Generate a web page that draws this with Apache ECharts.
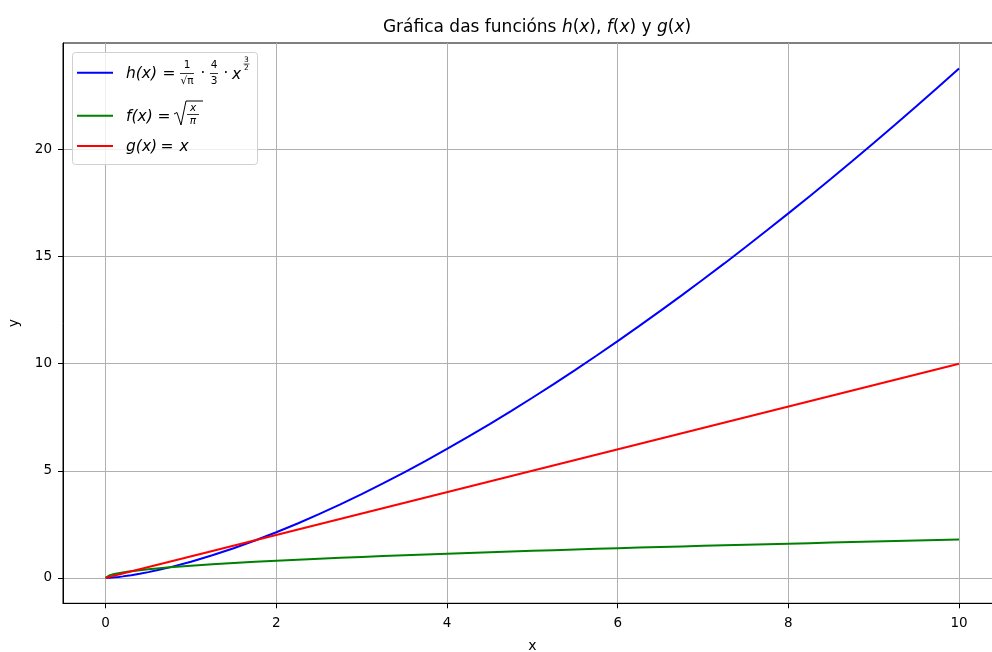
<!DOCTYPE html>
<html>
<head>
<meta charset="utf-8">
<script src="https://cdn.jsdelivr.net/npm/echarts@6/dist/echarts.min.js"></script>
<style>html,body{margin:0;padding:0;background:#fff}#c{width:992px;height:652px}</style>
</head>
<body>
<div id="c"></div>
<script>
// Data
var xValues = [0, 0.05, 0.1, 0.15, 0.2, 0.25, 0.3, 0.4, 0.5, 0.6, 0.75, 1, 1.25, 1.5, 1.75, 2, 2.25, 2.5, 2.75, 3, 3.25, 3.5, 3.75, 4, 4.25, 4.5, 4.75, 5, 5.25, 5.5, 5.75, 6, 6.25, 6.5, 6.75, 7, 7.25, 7.5, 7.75, 8, 8.25, 8.5, 8.75, 9, 9.25, 9.5, 9.75, 10];
var hValues = [0, 0.0084, 0.0238, 0.0437, 0.0673, 0.0940, 0.1236, 0.1903, 0.2660, 0.3496, 0.4886, 0.7523, 1.0513, 1.3820, 1.7415, 2.1277, 2.5389, 2.9735, 3.4306, 3.9088, 4.4075, 4.9257, 5.4627, 6.0180, 6.5911, 7.1809, 7.7876, 8.4105, 9.0490, 9.7031, 10.3722, 11.0558, 11.7540, 12.4662, 13.1923, 13.9319, 14.6849, 15.4510, 16.2301, 17.0216, 17.8256, 18.6420, 19.4704, 20.3108, 21.1630, 22.0262, 22.9021, 23.7886];
var fValues = [0, 0.1262, 0.1784, 0.2185, 0.2523, 0.2821, 0.3090, 0.3568, 0.3989, 0.4370, 0.4886, 0.5642, 0.6308, 0.6910, 0.7464, 0.7979, 0.8463, 0.8921, 0.9356, 0.9772, 1.0171, 1.0555, 1.0926, 1.1284, 1.1631, 1.1968, 1.2296, 1.2616, 1.2927, 1.3231, 1.3529, 1.3820, 1.4105, 1.4384, 1.4658, 1.4927, 1.5191, 1.5451, 1.5707, 1.5958, 1.6205, 1.6449, 1.6689, 1.6926, 1.7159, 1.7390, 1.7617, 1.7841];
var gX = [0, 10];
var gValues = [0, 10];
var xTicks = [0, 2, 4, 6, 8, 10];
var yTicks = [0, 5, 10, 15, 20];

function pairs(xs, ys) { return xs.map(function (x, i) { return [x, ys[i]]; }); }

var FONT = 'DejaVu Sans';
var chart = echarts.init(document.getElementById('c'), null, { renderer: 'canvas' });

function t(str, x, y, size, italic, align) {
  return { type: 'text', x: x, y: y, z: 101, style: { text: str, font: (italic ? 'italic ' : '') + size + 'px "' + FONT + '"', fill: '#000', textAlign: align || 'center', textVerticalAlign: 'middle' } };
}
function ln(x1, y1, x2, y2, color, w) {
  return { type: 'line', z: 101, shape: { x1: x1, y1: y1, x2: x2, y2: y2 }, style: { stroke: color, lineWidth: w } };
}

var legendGraphics = [
  { type: 'rect', z: 100, shape: { x: 72.5, y: 52.5, width: 185, height: 112, r: 3 }, style: { fill: 'rgba(255,255,255,0.8)', stroke: '#d0d0d0', lineWidth: 1 } },
  ln(77, 72.7, 113, 72.7, '#0000ff', 2),
  ln(77, 115.7, 113, 115.7, '#008000', 2),
  ln(77, 146, 113, 146, '#ff0000', 2),
  // h(x) = 1/sqrt(pi) · 4/3 · x^(3/2)
  t('h(x)', 126, 74, 15.5, true, 'left'),
  t('=', 169, 74, 15.5, false),
  t('1', 187, 65.5, 10.5, false),
  ln(180, 73.5, 194, 73.5, '#000', 0.8),
  t('√π', 187, 81.5, 10.5, false),
  t('·', 203, 74, 15, false),
  t('4', 214, 65.5, 10.5, false),
  ln(210, 73.5, 218, 73.5, '#000', 0.8),
  t('3', 214, 81.5, 10.5, false),
  t('·', 226, 74, 15, false),
  t('x', 236.5, 75, 15.5, true),
  t('3', 246.5, 60, 7.5, false),
  ln(243.5, 64, 249.5, 64, '#000', 0.6),
  t('2', 246.5, 68, 7.5, false),
  // f(x) = sqrt(x/pi)
  t('f(x)', 126, 117, 15.5, true, 'left'),
  t('=', 164, 117, 15.5, false),
  { type: 'polyline', z: 101, shape: { points: [[174, 114], [177, 112.5], [181, 125], [186, 101], [203, 101]] }, style: { stroke: '#000', lineWidth: 1, fill: null } },
  t('x', 193, 108, 10.5, true),
  ln(187, 114.5, 199, 114.5, '#000', 0.8),
  t('π', 193, 121, 10.5, true),
  // g(x) = x
  t('g(x)', 126, 147, 15.5, true, 'left'),
  t('=', 167, 147, 15.5, false),
  t('x', 184, 147, 15.5, true)
];

var option = {
  backgroundColor: '#fff',
  animation: false,
  title: {
    text: '{n|Gráfica das funcións }{i|h}{n|(}{i|x}{n|), }{i|f}{n|(}{i|x}{n|) y }{i|g}{n|(}{i|x}{n|)}',
    left: 532, textAlign: 'center', top: 14,
    textStyle: {
      fontWeight: 'normal',
      rich: {
        n: { fontFamily: FONT, fontSize: 17, fontWeight: 'normal', color: '#000' },
        i: { fontFamily: FONT, fontSize: 17, fontWeight: 'normal', fontStyle: 'italic', color: '#000' }
      }
    }
  },
  grid: { left: 63, top: 43, right: -9.7, bottom: 48.7, show: true, borderColor: '#000', borderWidth: 1, backgroundColor: 'transparent', containLabel: false, outerBoundsMode: 'none' },
  xAxis: {
    type: 'value', min: -0.5, max: 10.5,
    name: 'x', nameLocation: 'middle', nameGap: 36,
    nameTextStyle: { fontFamily: FONT, fontSize: 14, color: '#000' },
    axisLine: { show: true, onZero: false, lineStyle: { color: '#000', width: 1 } },
    axisTick: { show: true, inside: false, length: 5, customValues: xTicks, lineStyle: { color: '#000' } },
    axisLabel: { customValues: xTicks, margin: 13, fontFamily: FONT, fontSize: 13.5, color: '#000' },
    splitLine: { show: true, lineStyle: { color: '#b0b0b0', width: 1 } }
  },
  yAxis: {
    type: 'value', min: -1.19, max: 24.98,
    name: 'y', nameLocation: 'middle', nameGap: 42,
    nameTextStyle: { fontFamily: FONT, fontSize: 14, color: '#000' },
    axisLine: { show: true, onZero: false, lineStyle: { color: '#000', width: 1 } },
    axisTick: { show: true, inside: false, length: 5, customValues: yTicks, lineStyle: { color: '#000' } },
    axisLabel: { customValues: yTicks, margin: 11, fontFamily: FONT, fontSize: 13.5, color: '#000' },
    splitLine: { show: true, lineStyle: { color: '#b0b0b0', width: 1 } }
  },
  series: [
    { name: 'h', type: 'line', data: pairs(xValues, hValues), showSymbol: false, smooth: false, lineStyle: { color: '#0000ff', width: 2 }, itemStyle: { color: '#0000ff' } },
    { name: 'f', type: 'line', data: pairs(xValues, fValues), showSymbol: false, smooth: false, lineStyle: { color: '#008000', width: 2 }, itemStyle: { color: '#008000' } },
    { name: 'g', type: 'line', data: pairs(gX, gValues), showSymbol: false, smooth: false, lineStyle: { color: '#ff0000', width: 2 }, itemStyle: { color: '#ff0000' } }
  ],
  graphic: legendGraphics
};
chart.setOption(option);
</script>
</body>
</html>
